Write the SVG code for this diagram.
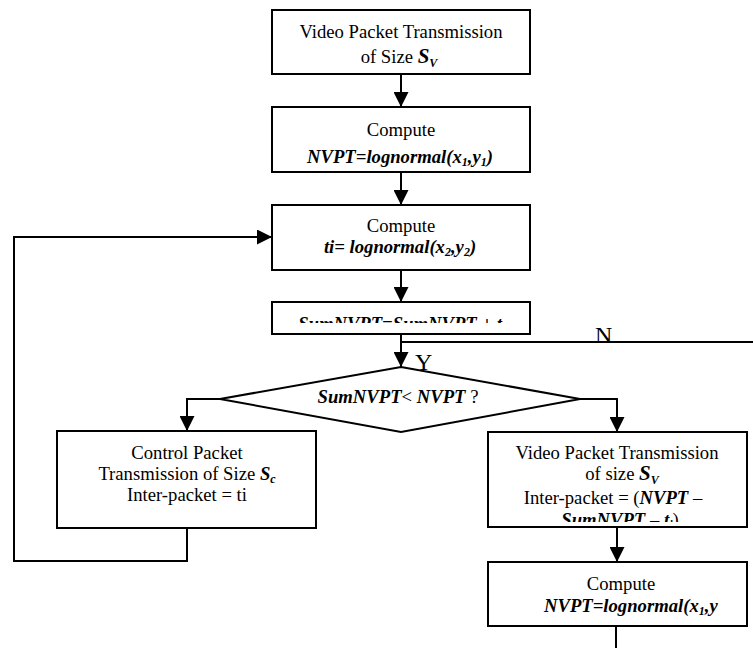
<svg xmlns="http://www.w3.org/2000/svg" width="753" height="648" viewBox="0 0 753 648">
<style>
.box{fill:#fff;stroke:#000;stroke-width:2}
.ln{fill:none;stroke:#000;stroke-width:2}
text{font-family:"Liberation Serif","Times New Roman",serif;font-size:18.67px;fill:#000}
.c{text-anchor:middle}
.bi{font-weight:bold;font-style:italic}
.sub{font-size:12px}
.lbl{font-size:24px}
</style>
<defs>
<marker id="ah" markerWidth="15" markerHeight="15" viewBox="0 0 15 15" refX="15" refY="7.5" orient="auto" markerUnits="userSpaceOnUse">
<path d="M0,0 L15,7.5 L0,15 Z" fill="#000"/>
</marker>
<clipPath id="c4"><rect x="272" y="303" width="257" height="20"/></clipPath>
<clipPath id="c6"><rect x="489" y="433" width="257" height="89"/></clipPath>
</defs>
<g id="connectors">
<line class="ln" x1="401" y1="74" x2="401" y2="107" marker-end="url(#ah)"/>
<line class="ln" x1="401" y1="172" x2="401" y2="205" marker-end="url(#ah)"/>
<line class="ln" x1="401" y1="270" x2="401" y2="302" marker-end="url(#ah)"/>
<line class="ln" x1="401" y1="334" x2="401" y2="367" marker-end="url(#ah)"/>
<line class="ln" x1="401" y1="342" x2="753" y2="342"/>
<polyline class="ln" points="220,399 187,399 187,431" marker-end="url(#ah)"/>
<polyline class="ln" points="580,399 617,399 617,432" marker-end="url(#ah)"/>
<polyline class="ln" points="187,528 187,561 14,561 14,237 272,237" marker-end="url(#ah)"/>
<line class="ln" x1="617" y1="527" x2="617" y2="562" marker-end="url(#ah)"/>
<line class="ln" x1="616" y1="626" x2="616" y2="648"/>
<text class="lbl" x="595" y="343">N</text>
<text class="lbl" x="415" y="370">Y</text>
</g>
<g id="n1">
<rect class="box" x="272" y="10" width="258" height="64"/>
<text class="c" x="401" y="38">Video Packet Transmission</text>
<text class="c" x="399" y="63">of Size <tspan class="bi" font-size="21">S</tspan><tspan class="bi sub" dy="4">V</tspan></text>
</g>
<g id="n2">
<rect class="box" x="272" y="107" width="258" height="65"/>
<text class="c" x="401" y="136">Compute</text>
<text class="c bi" x="400" y="163">NVPT=lognormal(x<tspan class="sub" dy="3">1</tspan><tspan dy="-3">,y</tspan><tspan class="sub" dy="3">1</tspan><tspan dy="-3">)</tspan></text>
</g>
<g id="n3">
<rect class="box" x="272" y="205" width="258" height="65"/>
<text class="c" x="401" y="232">Compute</text>
<text class="c bi" x="400" y="253">ti= lognormal(x<tspan class="sub" dy="3">2</tspan><tspan dy="-3">,y</tspan><tspan class="sub" dy="3">2</tspan><tspan dy="-3">)</tspan></text>
</g>
<g id="n4">
<rect class="box" x="272" y="302" width="258" height="32"/>
<text class="c bi" x="400" y="330" clip-path="url(#c4)">SumNVPT=SumNVPT + t</text>
</g>
<g id="n5">
<polygon class="box" points="401,367 580,399 401,432 220,399"/>
<text class="c" x="398" y="403"><tspan class="bi">SumNVPT</tspan>&lt; <tspan class="bi">NVPT</tspan> ?</text>
</g>
<g id="n6">
<rect class="box" x="57" y="431" width="259" height="97"/>
<text class="c" x="187" y="459">Control Packet</text>
<text class="c" x="187" y="480">Transmission of Size <tspan class="bi">S</tspan><tspan class="bi sub" dy="3">c</tspan></text>
<text class="c" x="187" y="501">Inter-packet = ti</text>
</g>
<g id="n7">
<rect class="box" x="488" y="432" width="259" height="95"/>
<g clip-path="url(#c6)">
<text class="c" x="617" y="459">Video Packet Transmission</text>
<text class="c" x="622" y="480">of size <tspan class="bi" font-size="21">S</tspan><tspan class="bi sub" dy="4">V</tspan></text>
<text class="c" x="613" y="504">Inter-packet = (<tspan class="bi">NVPT</tspan> –</text>
<text class="c" x="620" y="526"><tspan class="bi">SumNVPT</tspan> – <tspan class="bi">t</tspan><tspan class="bi sub" dy="3">i</tspan><tspan dy="-3">)</tspan></text>
</g>
</g>
<g id="n8">
<rect class="box" x="488" y="562" width="259" height="64"/>
<text class="c" x="621" y="590">Compute</text>
<text class="bi" x="544" y="612">NVPT=lognormal(x<tspan class="sub" dy="3">1</tspan><tspan dy="-3">,y</tspan></text>
</g>
</svg>
